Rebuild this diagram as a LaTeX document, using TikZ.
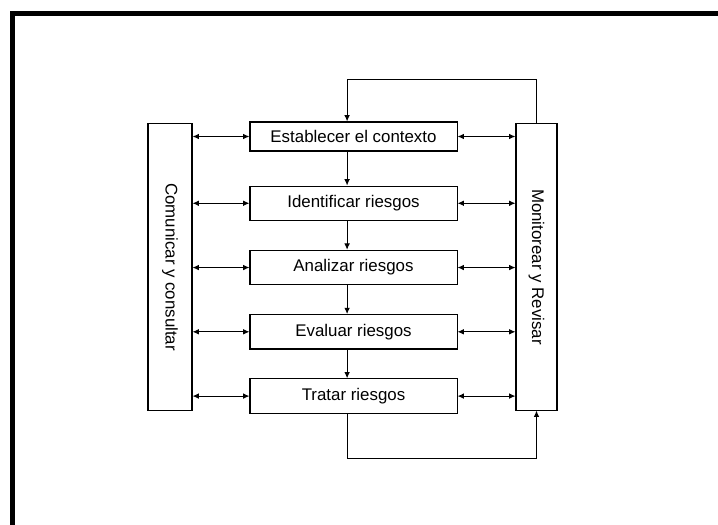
\documentclass[tikz,border=0pt]{standalone}
\usepackage{fontspec}
\setmainfont{Liberation Sans}
\usetikzlibrary{%
    shapes,%
    arrows.meta,%
    positioning,%
    calc%
}
\tikzset{
    block/.style = {draw, rectangle, line width=0.75pt, minimum width=5.175cm,
    minimum height=0.86cm, inner sep=0pt, font=\fontsize{12}{14}\selectfont},
    side/.style = {draw, rectangle, line width=0.75pt, minimum height=7.15cm,
    inner sep=0pt, font=\fontsize{12}{14}\selectfont},
    arr/.style = {-{Latex[length=4.5pt,width=4pt]}, line width=0.7pt},
    both/.style = {{Latex[length=4.5pt,width=4pt]}-{Latex[length=4.5pt,width=4pt]}, line width=0.7pt}
}

\begin{document}
\begin{tikzpicture}[x=0.025cm, y=-0.025cm]
    \useasboundingbox (0,0) rectangle (718,525);
    \draw[line width=3.6pt] (12.5,525) -- (12.5,13.5) -- (718,13.5);
    \node (contexto) [block, minimum height=0.725cm] at (353.5,136.5) {Establecer el contexto};
    \node[below = 0.85cm of contexto] (identificar) [block] {Identificar riesgos};
    \node[below = 0.72cm of identificar] (analizar) [block] {Analizar riesgos};
    \node[below = 0.72cm of analizar] (evaluar) [block] {Evaluar riesgos};
    \node[below = 0.72cm of evaluar] (tratar) [block] {Tratar riesgos};
    \node (comunicar) [side, minimum width=1.1cm] at (170,267) {\rotatebox{-90}{Comunicar y consultar}};
    \node (monitorear) [side, minimum width=1.025cm] at (536.5,267) {\rotatebox{-90}{Monitorear y Revisar}};
    % flujo principal
    \draw[arr] ([xshift=-0.16cm]contexto.south) -- ([xshift=-0.16cm]identificar.north);
    \draw[arr] ([xshift=-0.16cm]identificar.south) -- ([xshift=-0.16cm]analizar.north);
    \draw[arr] ([xshift=-0.16cm]analizar.south) -- ([xshift=-0.16cm]evaluar.north);
    \draw[arr] ([xshift=-0.16cm]evaluar.south) -- ([xshift=-0.16cm]tratar.north);
    \draw[arr] (monitorear.north) -- ++(0,-44) -| ([xshift=-0.16cm]contexto.north);
    \draw[arr] ([xshift=-0.16cm]tratar.south) -- ++(0,45) -| (monitorear.south);
    % comunicar y monitorear
    \draw[both] (comunicar.east |- contexto.west) -- (contexto.west);
    \draw[both] (comunicar.east |- identificar.west) -- (identificar.west);
    \draw[both] (comunicar.east |- analizar.west) -- (analizar.west);
    \draw[both] (comunicar.east |- evaluar.west) -- (evaluar.west);
    \draw[both] (comunicar.east |- tratar.west) -- (tratar.west);
    \draw[both] (contexto.east) -- (monitorear.west |- contexto.east);
    \draw[both] (identificar.east) -- (monitorear.west |- identificar.east);
    \draw[both] (analizar.east) -- (monitorear.west |- analizar.east);
    \draw[both] (evaluar.east) -- (monitorear.west |- evaluar.east);
    \draw[both] (tratar.east) -- (monitorear.west |- tratar.east);


\end{tikzpicture}
\end{document}
